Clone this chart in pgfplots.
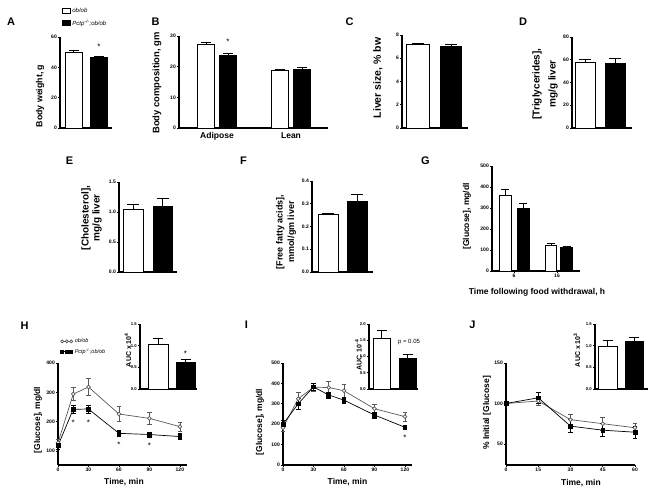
\documentclass[border=0pt]{standalone}
\usepackage{fontspec}
\setmainfont{Liberation Sans}
\usepackage{pgfplots}
\pgfplotsset{compat=1.18}
\pgfplotsset{
  gp/.style={
    scale only axis, anchor=south west, clip=false,
    axis x line*=bottom, axis y line*=left,
    axis line style={line width=1.1pt,-},
    every tick/.append style={black, line width=0.7pt},
    tick align=outside, major tick length=2pt, minor tick length=1.3pt,
    yticklabel style={font=\fontsize{5}{5}\selectfont\bfseries, inner sep=1pt},
    xticklabel style={font=\fontsize{5}{5}\selectfont\bfseries, inner sep=1pt},
    /pgf/number format/assume math mode=true,
  },
  bargp/.style={gp, ymin=0, xmin=0, xtick=\empty},
  dec/.style={yticklabel style={/pgf/number format/fixed, /pgf/number format/fixed zerofill, /pgf/number format/precision=1}},
  bar/.style={ybar, bar shift=0pt, draw=black, line width=0.9pt, forget plot,
    /pgfplots/error bars/y dir=plus, /pgfplots/error bars/y explicit,
    /pgfplots/error bars/error bar style={line width=0.9pt},
    /pgfplots/error bars/error mark options={rotate=90, line width=0.9pt, mark size=#1}},
  lp/.style={line width=0.7pt, forget plot,
    /pgfplots/error bars/y dir=both, /pgfplots/error bars/y explicit,
    /pgfplots/error bars/error bar style={line width=0.7pt},
    /pgfplots/error bars/error mark options={rotate=90, line width=0.7pt, mark size=2.3pt}},
  wl/.style={lp, black!65, mark=*, mark size=1.9pt, mark options={fill=white, draw=black!65, line width=0.7pt}},
  bl/.style={lp, black, mark=square*, mark size=1.9pt, mark options={fill=black}},
  lineleg/.style={legend image code/.code={\draw[##1] plot coordinates {(0pt,0pt) (4.5pt,0pt) (9pt,0pt)};}},
}
\newcommand{\lab}{\fontsize{8.5}{9}\selectfont\bfseries}
\newcommand{\pl}{\fontsize{11}{11}\selectfont\bfseries}
\newcommand{\st}{\fontsize{8}{8}\selectfont}
\begin{document}
\begin{tikzpicture}[x=1pt,y=1pt]
\useasboundingbox (0,0) rectangle (654,497);
% ---------- A ----------
\begin{axis}[bargp, at={(60pt,369pt)}, width=52pt, height=91pt, xmax=52, ymax=60, ytick={0,20,40,60},
  legend style={at={(0.03,1.34)}, anchor=north west, draw=none, fill=none, font=\fontsize{6}{7}\selectfont\itshape, inner sep=0pt, row sep=1.5pt},
  legend cell align=left]
\addlegendimage{legend image code/.code={\draw[fill=white,draw=black,line width=0.6pt] (0pt,-2.3pt) rectangle (8pt,2.7pt);}}
\addlegendentry{ob/ob}
\addlegendimage{legend image code/.code={\draw[fill=black,draw=black,line width=0.6pt] (0pt,-2.3pt) rectangle (8pt,2.7pt);}}
\addlegendentry{Pctp\textsuperscript{-/-};ob/ob}
\addplot[bar=5pt, fill=white, bar width=17pt] coordinates {(13.6,49.6) +- (0,1.2)};
\addplot[bar=5pt, fill=black, bar width=17pt] coordinates {(39,46.3) +- (0,0.6)};
\node[font=\st] at (axis cs:39,53.5) {*};
\end{axis}
% ---------- B ----------
\begin{axis}[bargp, at={(179pt,369pt)}, width=149pt, height=92pt, xmax=149, ymax=30, ytick={0,10,20,30},
  xtick={38,112}, xticklabels={Adipose,Lean}, xticklabel style={font=\lab, inner sep=2pt}, x tick style={draw=none}]
\addplot[bar=5pt, fill=white, bar width=17pt] coordinates {(27,27.1) +- (0,0.8)};
\addplot[bar=5pt, fill=black, bar width=17pt] coordinates {(49,23.8) +- (0,0.6)};
\addplot[bar=5pt, fill=white, bar width=17pt] coordinates {(101,18.7) +- (0,0.25)};
\addplot[bar=5pt, fill=black, bar width=17pt] coordinates {(123,19.2) +- (0,0.6)};
\node[font=\st] at (axis cs:49,28.0) {*};
\end{axis}
% ---------- C ----------
\begin{axis}[bargp, at={(402pt,369pt)}, width=66pt, height=93pt, xmax=66, ymax=8, ytick={0,2,4,6,8}]
\addplot[bar=6pt, fill=white, bar width=23pt] coordinates {(16,7.15) +- (0,0.15)};
\addplot[bar=6pt, fill=black, bar width=21pt] coordinates {(49,7.0) +- (0,0.2)};
\end{axis}
% ---------- D ----------
\begin{axis}[bargp, at={(572pt,369pt)}, width=60pt, height=91pt, xmax=60, ymax=80, ytick={0,20,40,60,80}]
\addplot[bar=6pt, fill=white, bar width=20pt] coordinates {(13,57.5) +- (0,3)};
\addplot[bar=6pt, fill=black, bar width=20pt] coordinates {(43,56.5) +- (0,4.8)};
\end{axis}
% ---------- E ----------
\begin{axis}[bargp, dec, at={(119pt,225pt)}, width=58pt, height=90pt, xmax=58, ymax=1.5, ytick={0,0.5,1,1.5}]
\addplot[bar=6pt, fill=white, bar width=20pt] coordinates {(14,1.045) +- (0,0.085)};
\addplot[bar=6pt, fill=black, bar width=19pt] coordinates {(43.5,1.1) +- (0,0.12)};
\end{axis}
% ---------- F ----------
\begin{axis}[bargp, dec, at={(312pt,225pt)}, width=61pt, height=91pt, xmax=61, ymax=0.4, ytick={0,0.1,0.2,0.3,0.4}]
\addplot[bar=6pt, fill=white, bar width=20pt] coordinates {(16,0.255) +- (0,0.003)};
\addplot[bar=6pt, fill=black, bar width=20pt] coordinates {(45,0.312) +- (0,0.03)};
\end{axis}
% ---------- G ----------
\begin{axis}[gp, at={(492pt,226pt)}, width=88pt, height=105pt, xmin=0.88, xmax=21.35, ymin=0, ymax=500,
  ytick={0,100,...,500}, xtick={6,16}, minor xtick={2,4,...,20}]
\addplot[bar=4pt, fill=white, bar width=12pt] coordinates {(3.9,362) +- (0,28)};
\addplot[bar=4pt, fill=black, bar width=12pt] coordinates {(8.2,298) +- (0,24)};
\addplot[bar=4pt, fill=white, bar width=11pt] coordinates {(14.6,120) +- (0,12)};
\addplot[bar=4pt, fill=black, bar width=12pt] coordinates {(18.3,113) +- (0,6)};
\end{axis}
% ---------- H ----------
\begin{axis}[gp, at={(58pt,32pt)}, width=129pt, height=102pt, xmin=0, xmax=127, ymin=52, ymax=400,
  ytick={100,200,300,400}, xtick={0,30,60,90,120},
  legend style={at={(0.02,1.26)}, anchor=north west, draw=none, fill=none, font=\fontsize{5.5}{6}\selectfont\itshape, inner sep=0pt, row sep=0.5pt},
  legend cell align=left]
\addlegendimage{lineleg, black!65, line width=0.7pt, mark=*, mark size=1.5pt, mark options={fill=white}}
\addlegendentry{ob/ob}
\addlegendimage{lineleg, black, line width=0.7pt, mark=square*, mark size=1.5pt}
\addlegendentry{Pctp\textsuperscript{-/-};ob/ob}
\addplot[wl] coordinates {(0,128) +- (0,10) (15,294) +- (0,22) (30,318) +- (0,28) (60,226) +- (0,26) (90,211) +- (0,22) (120,183) +- (0,16)};
\addplot[bl] coordinates {(0,118) +- (0,12) (15,242) +- (0,14) (30,243) +- (0,14) (60,160) +- (0,11) (90,156) +- (0,9) (120,149) +- (0,11)};
\node[font=\st] at (axis cs:15,196) {*};
\node[font=\st] at (axis cs:30,196) {*};
\node[font=\st] at (axis cs:60,121) {*};
\node[font=\st] at (axis cs:90,116) {*};
\end{axis}
\begin{axis}[bargp, dec, at={(140pt,108pt)}, width=57pt, height=65pt, xmax=57, ymax=1.5, ytick={0,0.5,1,1.5},
  yticklabel style={font=\fontsize{4.2}{4}\selectfont\bfseries}]
\addplot[bar=5pt, fill=white, bar width=20pt] coordinates {(18,1.02) +- (0,0.15)};
\addplot[bar=5pt, fill=black, bar width=19pt] coordinates {(45.5,0.62) +- (0,0.06)};
\node[font=\st] at (axis cs:45.5,0.82) {*};
\end{axis}
% ---------- I ----------
\begin{axis}[gp, at={(283pt,32pt)}, width=129pt, height=102pt, xmin=0, xmax=127, ymin=0, ymax=500,
  ytick={0,100,...,500}, xtick={0,30,60,90,120}]
\addplot[wl] coordinates {(0,183) +- (0,20) (15,325) +- (0,30) (30,381) +- (0,20) (45,380) +- (0,30) (60,364) +- (0,30) (90,276) +- (0,20) (120,237) +- (0,22)};
\addplot[bl] coordinates {(0,201) +- (0,18) (15,300) +- (0,25) (30,383) +- (0,15) (45,343) +- (0,15) (60,318) +- (0,15) (90,245) +- (0,15) (120,185) +- (0,10)};
\node[font=\st] at (axis cs:120,133) {*};
\end{axis}
\begin{axis}[bargp, dec, at={(369pt,108pt)}, width=49pt, height=65pt, xmax=49, ymax=2, ytick={0,0.5,1,1.5,2},
  yticklabel style={font=\fontsize{4.2}{4}\selectfont\bfseries}]
\addplot[bar=5pt, fill=white, bar width=17pt] coordinates {(12.5,1.55) +- (0,0.25)};
\addplot[bar=5pt, fill=black, bar width=17pt] coordinates {(38.5,0.93) +- (0,0.13)};
\end{axis}
% ---------- J ----------
\begin{axis}[gp, at={(506pt,32pt)}, width=129pt, height=102pt, xmin=0, xmax=60, ymin=24, ymax=150,
  ytick={50,100,150}, xtick={0,15,30,45,60}]
\addplot[wl] coordinates {(0,100) +- (0,1) (15,103) +- (0,5) (30,80) +- (0,7) (45,75) +- (0,8) (60,70) +- (0,5)};
\addplot[bl] coordinates {(0,100) +- (0,1) (15,107) +- (0,7) (30,72) +- (0,8) (45,67) +- (0,8) (60,64.5) +- (0,7)};
\end{axis}
\begin{axis}[bargp, dec, at={(595pt,108pt)}, width=53pt, height=65pt, xmax=53, ymax=1.5, ytick={0,0.5,1,1.5},
  yticklabel style={font=\fontsize{4.2}{4}\selectfont\bfseries}]
\addplot[bar=5pt, fill=white, bar width=19pt] coordinates {(12.5,0.98) +- (0,0.15)};
\addplot[bar=5pt, fill=black, bar width=18pt] coordinates {(39,1.1) +- (0,0.1)};
\end{axis}
% ---------- panel letters ----------
\node[font=\pl] at (11,475) {A};
\node[font=\pl] at (155.5,475) {B};
\node[font=\pl] at (349.5,475) {C};
\node[font=\pl] at (523,475) {D};
\node[font=\pl] at (69.5,336) {E};
\node[font=\pl] at (243.5,336) {F};
\node[font=\pl] at (425.5,336) {G};
\node[font=\pl] at (24.5,171.5) {H};
\node[font=\pl] at (246.5,172) {I};
\node[font=\pl] at (472.5,172) {J};
% ---------- axis labels ----------
\node[rotate=90, font=\fontsize{8.8}{9}\selectfont\bfseries] at (40,401) {Body weight, g};
\node[rotate=90, font=\fontsize{9.4}{10}\selectfont\bfseries] at (157,414) {Body composition, gm};
\node[rotate=90, font=\fontsize{10.5}{11}\selectfont\bfseries] at (378,419) {Liver size, \% bw};
\node[rotate=90, align=center, font=\fontsize{10}{16}\selectfont\bfseries] at (545,413) {[Triglycerides],\\mg/g liver};
\node[rotate=90, align=center, font=\fontsize{10}{11}\selectfont\bfseries] at (91.5,279) {[Cholesterol],\\mg/g liver};
\node[rotate=90, align=center, font=\fontsize{9}{11.5}\selectfont\bfseries] at (286,265) {[Free fatty acids],\\mmol/gm liver};
\node[rotate=90, font=\lab] at (467,280.5) {[Glucose], mg/dl};
\node[font=\lab] at (537,205) {Time following food withdrawal, h};
\node[rotate=90, font=\lab] at (38,77) {[Glucose], mg/dl};
\node[font=\lab] at (124,15) {Time, min};
\node[rotate=90, font=\fontsize{7}{7}\selectfont\bfseries] at (128,147) {AUC x 10\textsuperscript{4}};
\node[rotate=90, font=\lab] at (260,75) {[Glucose], mg/dl};
\node[font=\lab] at (347.5,15) {Time, min};
\node[rotate=90, font=\fontsize{7}{7}\selectfont\bfseries] at (358.5,142) {AUC\enspace 10\textsuperscript{-4}};
\node[font=\fontsize{6}{6}\selectfont] at (409,155) {p = 0.05};
\node[rotate=90, font=\lab] at (487,84) {\% Initial [Glucose]};
\node[font=\lab] at (581,14) {Time, min};
\node[rotate=90, font=\fontsize{7}{7}\selectfont\bfseries] at (577,147) {AUC x 10\textsuperscript{3}};
\end{tikzpicture}
\end{document}
